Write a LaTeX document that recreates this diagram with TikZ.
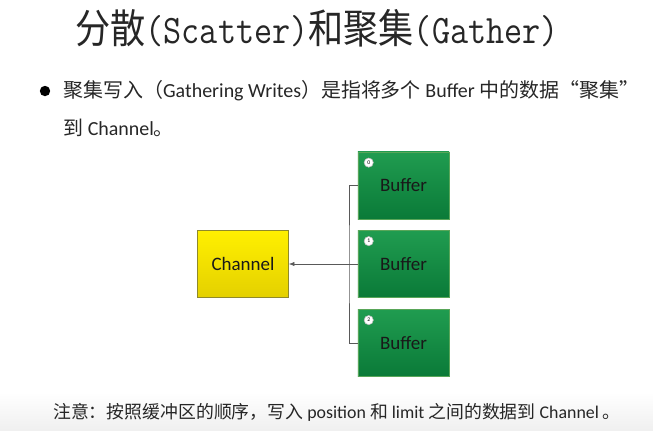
\documentclass[tikz,border=0pt]{standalone}
\usepackage{fontspec}
\setmainfont{Carlito}
\newfontfamily\cjk{Noto Sans CJK SC}
\usetikzlibrary{arrows.meta,calc,positioning}
\definecolor{greentop}{RGB}{32,156,80}
\definecolor{greenbot}{RGB}{10,122,56}
\definecolor{yeltop}{RGB}{255,240,0}
\definecolor{yelbot}{RGB}{228,208,0}
\tikzset{
    x=0.025cm, y=-0.025cm, semithick,
    block/.style ={rectangle, minimum width=2.275cm, minimum height=1.68cm, text=black!90,
                   font=\fontsize{13.5}{16}\selectfont},
    buffer/.style={block, draw=gray!70!green, top color=greentop, bottom color=greenbot},
    channel/.style={block, draw=olive!70!gray, top color=yeltop, bottom color=yelbot},
    num/.style = {circle, draw=gray!50, fill=white, inner sep=0pt, minimum size=0.23cm,
                  font=\fontsize{4}{4}\selectfont},
    link/.style={draw=gray!70!black, thin},
    gather/.style={link, -{Latex[length=4pt,width=3pt]}},
    txt/.style = {anchor=west, inner sep=0pt, text=black!85}
}
\begin{document}
\begin{tikzpicture}
    \useasboundingbox (0,0) rectangle (653,430);
    \shade[top color=white, bottom color=gray!12] (0,392) rectangle (653,430);

    \node[txt, font=\fontsize{25}{30}\selectfont] (title) at (75,28)
        {\scalebox{1}[1.15]{{\cjk 分散}\ttfamily(Scatter){\cjk 和聚集}(Gather)}};

    \node[circle, fill=black, inner sep=0pt, minimum size=0.26cm] (dot) at (45,91) {};
    \node[txt, font=\fontsize{14.2}{16}\selectfont] (line1) at (63,91)
        {{\cjk 聚集写入（}Gathering Writes{\cjk ）是指将多个} Buffer {\cjk 中的数据“聚集”}};
    \node[txt, font=\fontsize{14.2}{16}\selectfont] (line2) at (63,128)
        {{\cjk 到} Channel{\cjk 。}};

    \node[channel] (chan) at (243,264) {Channel};
    \node[buffer] (b0) at (403.5,185.5) {Buffer};
    \node[buffer] (b1) at (403.5,264) {Buffer};
    \node[buffer] (b2) at (403.5,343) {Buffer};

    \node[num] (n0) at ([shift={(11,11)}]b0.north west) {0};
    \node[num] (n1) at ([shift={(11,11)}]b1.north west) {1};
    \node[num] (n2) at ([shift={(11,11)}]b2.north west) {2};

    \coordinate (bus) at (349,264);
    \draw[link] (b0.west) -| (bus) |- (b2.west);
    \draw[gather] (b1.west) -- (chan.east);

    \node[txt, font=\fontsize{12.7}{15}\selectfont] (note) at (53,412)
        {{\cjk 注意：按照缓冲区的顺序，写入} position {\cjk 和} limit {\cjk 之间的数据到} Channel {\cjk 。}};
\end{tikzpicture}
\end{document}
